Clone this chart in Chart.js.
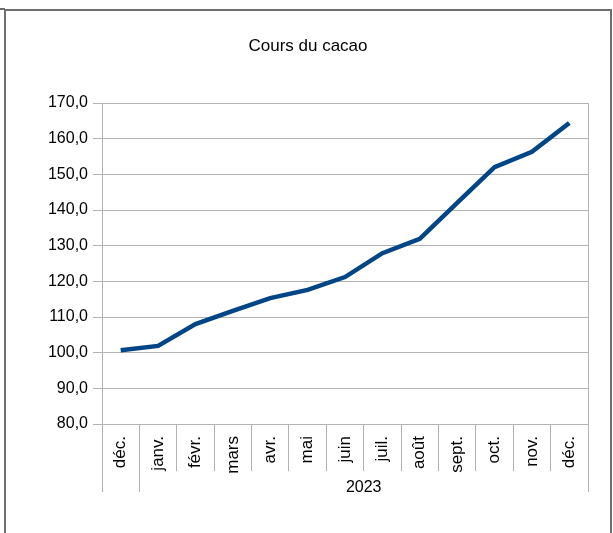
<!DOCTYPE html>
<html>
<head>
<meta charset="utf-8">
<script src="https://cdn.jsdelivr.net/npm/chart.js@4"></script>
<style>
  html, body { margin: 0; padding: 0; background: #fff; }
  #wrap { width: 613px; height: 533px; position: relative; }
</style>
</head>
<body>
<div id="wrap"><canvas id="cacao"></canvas></div>
<script>
// mois (déc. 2022 puis l'année 2023)
const mois = ['déc.', 'janv.', 'févr.', 'mars', 'avr.', 'mai', 'juin', 'juil.', 'août', 'sept.', 'oct.', 'nov.', 'déc.']
const cours = [100.7, 101.9, 108.0, 111.7, 115.3, 117.6, 121.2, 127.9, 131.9, 142.0, 152.0, 156.3, 164.4]
const annee = '2023'
const titre = 'Cours du cacao'
const yMin = 80, yMax = 170, yPas = 10

const police = 'Liberation Sans, Arial, sans-serif'
const gris = '#b3b3b3'

// cadre, titre, séparateurs de groupe
const decor = {
  id: 'decor',
  beforeDraw(chart) {
    const ctx = chart.ctx
    ctx.save()
    ctx.strokeStyle = '#6e6e6e'
    ctx.lineWidth = 2
    ctx.beginPath()
    ctx.moveTo(5, 540); ctx.lineTo(5, 10); ctx.lineTo(611, 10); ctx.lineTo(611, 540)
    ctx.moveTo(0, 9); ctx.lineTo(5, 9)
    ctx.stroke()
    ctx.fillStyle = '#000'
    ctx.font = '17px ' + police
    ctx.textAlign = 'center'
    ctx.textBaseline = 'middle'
    ctx.fillText(titre, 308, 46)
    ctx.restore()
  },
  afterDraw(chart) {
    const ctx = chart.ctx
    const x = chart.scales.x
    const area = chart.chartArea
    const demi = (x.getPixelForValue(1) - x.getPixelForValue(0)) / 2
    const b0 = x.getPixelForValue(0) - demi
    const b1 = x.getPixelForValue(1) - demi
    const bN = x.getPixelForValue(mois.length - 1) + demi
    ctx.save()
    ctx.strokeStyle = gris
    ctx.lineWidth = 1
    ctx.beginPath()
    ;[b0, b1, bN].forEach(b => {
      const px = Math.round(b) + 0.5
      ctx.moveTo(px, area.bottom); ctx.lineTo(px, 492)
    })
    const pr = Math.round(bN) + 0.5
    ctx.moveTo(pr, area.top); ctx.lineTo(pr, area.bottom)
    ctx.stroke()
    ctx.fillStyle = '#000'
    ctx.font = '16px ' + police
    ctx.textAlign = 'center'
    ctx.textBaseline = 'middle'
    ctx.fillText(annee, (b1 + bN) / 2, 488)
    ctx.restore()
  }
}

new Chart(document.getElementById('cacao').getContext('2d'), {
  type: 'line',
  data: {
    labels: mois,
    datasets: [{
      label: titre,
      data: cours,
      borderColor: '#004586',
      backgroundColor: '#004586',
      borderWidth: 4.5,
      pointRadius: 0,
      tension: 0
    }]
  },
  options: {
    responsive: true,
    maintainAspectRatio: false,
    animation: false,
    layout: { padding: { left: 0, right: 25, top: 103, bottom: 0 } },
    plugins: { legend: { display: false }, title: { display: false }, tooltip: { enabled: false } },
    scales: {
      x: {
        offset: true,
        afterFit: s => { s.height = 109 },
        grid: { offset: true, drawOnChartArea: false, drawTicks: true, tickLength: 47, color: gris },
        border: { color: gris },
        ticks: {
          autoSkip: false, minRotation: 90, maxRotation: 90, padding: -35,
          color: '#000', font: { family: police, size: 17 }
        }
      },
      y: {
        min: yMin, max: yMax,
        afterFit: s => { s.width = 102 },
        grid: { color: gris, tickLength: 9 },
        border: { color: gris },
        ticks: {
          stepSize: yPas, padding: 5, color: '#000',
          font: { family: police, size: 16 },
          callback: v => v.toFixed(1).replace('.', ',')
        }
      }
    }
  },
  plugins: [decor]
})
</script>
</body>
</html>
